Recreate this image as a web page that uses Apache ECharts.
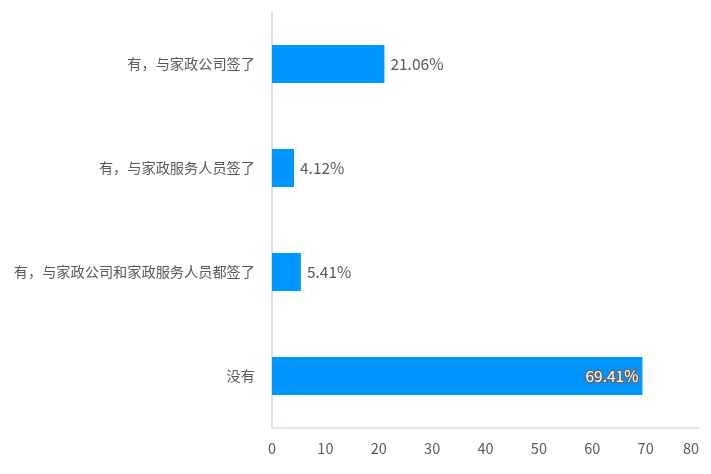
<!DOCTYPE html>
<html><head><meta charset="utf-8">
<script src="https://cdn.jsdelivr.net/npm/echarts@6/dist/echarts.min.js"></script>
<style>html,body{margin:0;padding:0;background:#fff}#c{width:711px;height:474px}</style>
</head><body><div id="c"></div>
<script>
var categories = ['有，与家政公司签了','有，与家政服务人员签了','有，与家政公司和家政服务人员都签了','没有'];
var values = [21.06, 4.12, 5.41, 69.41];
var xTicks = {min:0, max:80, interval:10};

var chart = echarts.init(document.getElementById('c'));
var font = '"Noto Sans CJK SC", "Noto Sans", sans-serif';
var data = values.map(function(v, i){
  var item = {value: v};
  if (i === values.length - 1) {
    item.label = {position:'insideRight', color:'#fff', textBorderColor:'#666', textBorderWidth:2.5, distance:4};
  }
  return item;
});
chart.setOption({
  animation:false,
  grid:{left:272, right:12, top:12, bottom:46, containLabel:false},
  xAxis:{type:'value', min:xTicks.min, max:xTicks.max, interval:xTicks.interval,
    axisLine:{show:true, lineStyle:{color:'#d9def2', width:1.5}},
    axisTick:{show:false}, splitLine:{show:false},
    axisLabel:{color:'#595959', fontSize:14.5, fontFamily:font, margin:13, alignMaxLabel:'right'}},
  yAxis:{type:'category', data:categories, inverse:true,
    axisLine:{show:true, lineStyle:{color:'#d9def2', width:2}},
    axisTick:{show:false},
    axisLabel:{color:'#595959', fontSize:14.2, fontFamily:font, margin:17}},
  series:[{type:'bar', data:data, barWidth:38, itemStyle:{color:'#0096ff'},
    label:{show:true, position:'right', distance:6, color:'#595959', fontSize:15.5, fontFamily:font,
      formatter:function(p){return p.value.toFixed(2)+'%';}}}]
});
</script></body></html>
